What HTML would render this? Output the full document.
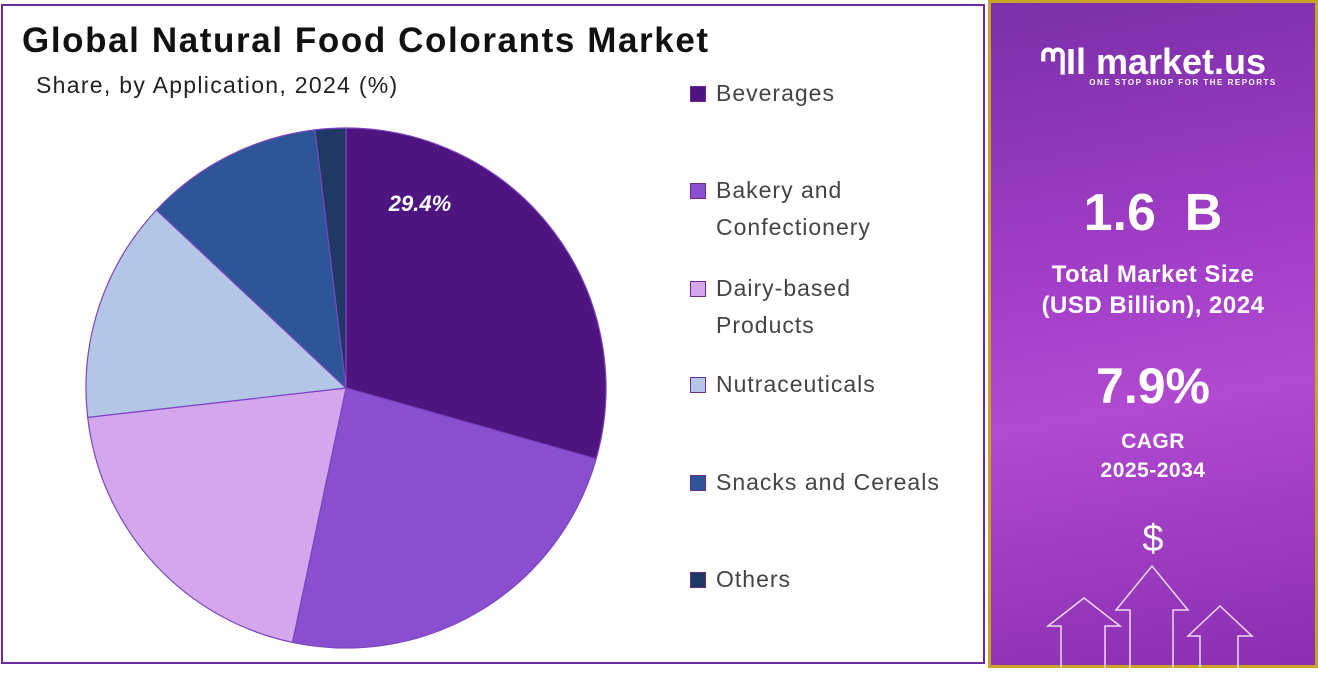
<!DOCTYPE html>
<html><head><meta charset="utf-8"><style>
body{margin:0;width:1318px;height:668px;overflow:hidden;background:#fff;font-family:"Liberation Sans",sans-serif;position:relative}
.lp{position:absolute;left:1px;top:4px;width:984px;height:660px;border:2px solid #6a2a9a;box-sizing:border-box}
.rp{position:absolute;left:988px;top:0;width:330px;height:668px;background:linear-gradient(170deg,#7a2fa8 0%,#a23ec8 40%,#b04ad0 60%,#8a2eb0 100%);border:3px solid #c9a227;box-sizing:border-box;color:#fff;text-align:center}
.t{position:absolute;left:22px;top:21px;font-size:35px;font-weight:bold;color:#111;letter-spacing:1.6px}
.st{position:absolute;left:36px;top:72px;font-size:23px;color:#222;letter-spacing:1.3px}
.lg{position:absolute;left:690px;font-size:23px;color:#444;line-height:37px;letter-spacing:1px}
.lg i{position:absolute;left:0;top:11px;width:16px;height:16px;border:1px solid #6a2a9a;box-sizing:border-box}
.lg span{margin-left:26px;display:block}
</style></head><body>
<div class="lp"></div>
<div class="t">Global Natural Food Colorants Market</div>
<div class="st">Share, by Application, 2024 (%)</div>
<svg id="pie" width="700" height="668" style="position:absolute;left:0;top:0"></svg>
<div id="legend"></div>
<div class="rp">
 <div style="position:absolute;top:38px;left:0;width:100%;font-size:36px;font-weight:bold">ᘉIl market.us</div>
 <div style="position:absolute;top:75px;left:0;width:100%;font-size:8px;font-weight:bold;letter-spacing:1.5px;padding-left:60px;box-sizing:border-box">ONE STOP SHOP FOR THE REPORTS</div>
 <div style="position:absolute;top:180px;left:0;width:100%;font-size:52px;font-weight:bold">1.6&nbsp; B</div>
 <div style="position:absolute;top:256px;left:0;width:100%;font-size:24px;font-weight:bold;line-height:31px;letter-spacing:0.5px">Total Market Size<br>(USD Billion), 2024</div>
 <div style="position:absolute;top:354px;left:0;width:100%;font-size:50px;font-weight:bold">7.9%</div>
 <div style="position:absolute;top:424px;left:0;width:100%;font-size:21px;font-weight:bold;line-height:29px;letter-spacing:0.5px">CAGR<br>2025-2034</div>
 <div style="position:absolute;top:515px;left:0;width:100%;font-size:38px">$</div>
 <svg width="330" height="120" style="position:absolute;left:-3px;top:555px" fill="none" stroke="#f0d8f8" stroke-width="1.5">
  <path d="M73 110V68H60L96 40L132 68H117V110"/><path d="M142 110V52H128L164 8L200 52H185V110"/><path d="M212 110V78H200L232 48L264 78H250V110"/>
 </svg>
</div>
<script>
const categories=["Beverages","Bakery and Confectionery","Dairy-based Products","Nutraceuticals","Snacks and Cereals","Others"];
const legendLines=[["Beverages"],["Bakery and","Confectionery"],["Dairy-based","Products"],["Nutraceuticals"],["Snacks and Cereals"],["Others"]];
const values=[29.4,23.9,19.9,13.8,11.1,1.9];
const colors=["#4e1580","#8a4fcf","#d4a6ec","#b4c6e6","#2e5597","#1f3864"];
const legendTops=[75,172,270,366,464,561];
const cx=346,cy=388,r=260;
const svg=document.getElementById('pie');const ns="http://www.w3.org/2000/svg";
const total=values.reduce((a,b)=>a+b,0);
function pt(f){const a=f*2*Math.PI;return [cx+r*Math.sin(a),cy-r*Math.cos(a)];}
let acc=0;
values.forEach((v,i)=>{
 const s=pt(acc/total);acc+=v;const e=pt(acc/total);
 const large=v/total>0.5?1:0;
 const p=document.createElementNS(ns,'path');
 p.setAttribute('d',`M${cx} ${cy}L${s[0]} ${s[1]}A${r} ${r} 0 ${large} 1 ${e[0]} ${e[1]}Z`);
 p.setAttribute('fill',colors[i]);p.setAttribute('stroke','#7a45c0');p.setAttribute('stroke-width','1.2');
 
 
 svg.appendChild(p);
});
const lab=document.createElementNS(ns,'text');
lab.setAttribute('x',420);lab.setAttribute('y',211);lab.setAttribute('text-anchor','middle');
lab.setAttribute('fill','#fff');lab.setAttribute('font-size','22');lab.setAttribute('font-weight','bold');lab.setAttribute('font-style','italic');
lab.setAttribute('font-family','Liberation Sans, sans-serif');
lab.textContent=values[0].toFixed(1)+'%';


svg.appendChild(lab);
const lg=document.getElementById('legend');
categories.forEach((c,i)=>{
 const d=document.createElement('div');d.className='lg';d.style.top=legendTops[i]+'px';
 d.innerHTML='<i style="background:'+colors[i]+'"></i>'+legendLines[i].map(t=>'<span>'+t+'</span>').join('');
 
 
 lg.appendChild(d);
});
</script>
</body></html>
